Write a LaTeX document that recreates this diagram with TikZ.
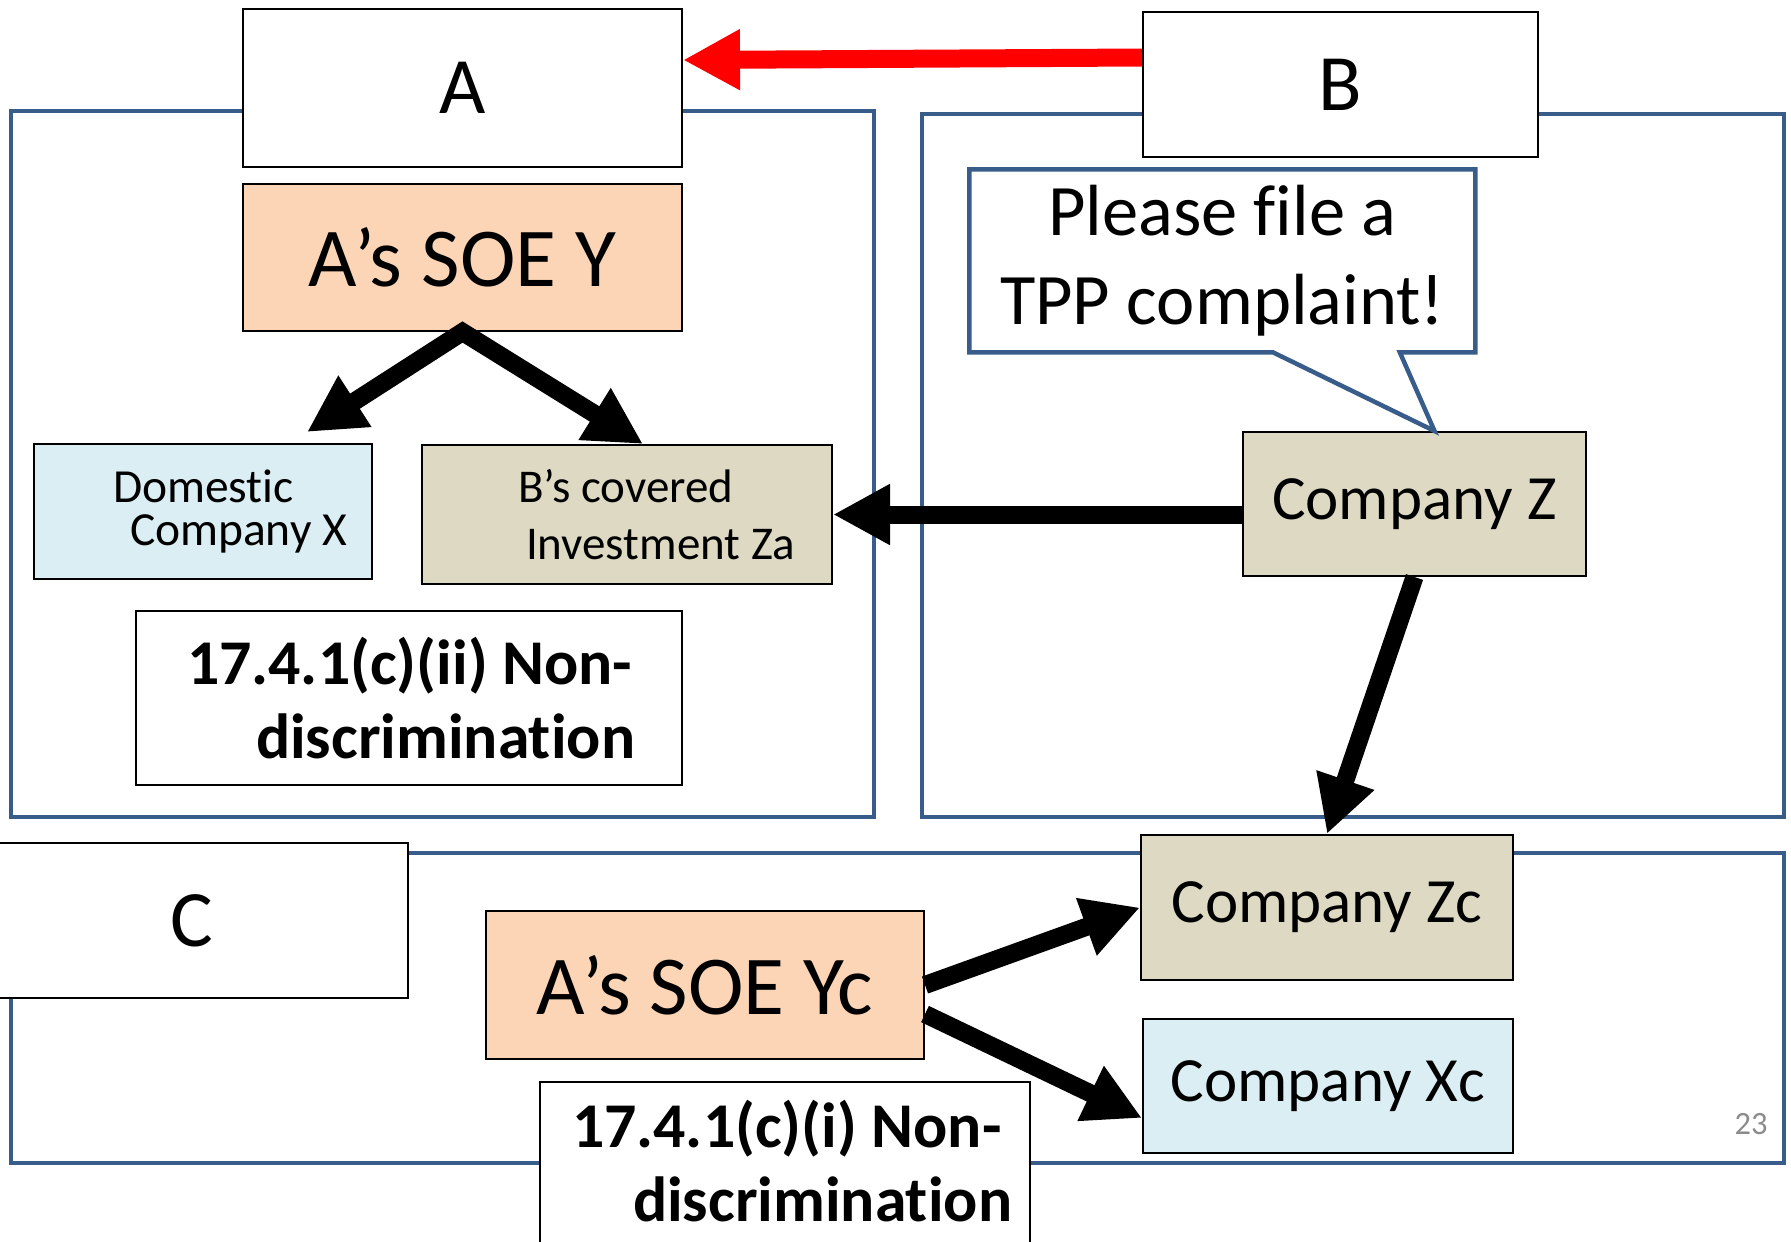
\documentclass[tikz,border=0pt]{standalone}
\usepackage{fontspec}
\setmainfont{Carlito}[Ligatures={TeX,NoCommon}]
\usetikzlibrary{arrows.meta,calc,shapes.callouts}

\definecolor{frameblue}{HTML}{385D8A}
\definecolor{soefill}{HTML}{FBD5B5}
\definecolor{domfill}{HTML}{DBEEF4}
\definecolor{invfill}{HTML}{DDD9C3}
\definecolor{pagegray}{HTML}{8C8C8C}

\tikzset{
  territory/.style={draw=frameblue, line width=1.8pt},
  country/.style={draw=black, line width=0.8pt, fill=white, anchor=north west, inner sep=0pt,
    font=\fontsize{32}{38}\selectfont},
  firm/.style={draw=black, line width=0.8pt, anchor=north west, inner sep=0pt},
  article/.style={draw=black, line width=0.8pt, fill=white, anchor=north west, inner sep=0pt,
    align=flush left, font=\fontsize{25.5}{29.6}\selectfont\bfseries},
  flow/.style={line width=7.2pt, >={Triangle[length=22.8pt,width=22.8pt]}, ->},
}

\begin{document}
\begin{tikzpicture}[x=0.4pt,y=0.4pt,yscale=-1,xscale=1]
\useasboundingbox (0,0) rectangle (1791,1241);

% the three parties
\draw [territory] (11,111) rectangle (874,817);
\draw [territory] (922,114) rectangle (1784,817);
\draw [territory] (11,853) rectangle (1784,1163);

\node [country, minimum width=175.6pt, minimum height=63.2pt] (a) at (242,8) {A};
\node [country, minimum width=158pt, minimum height=58pt] (b) at (1142,11) {B};
\node [country, minimum width=172.8pt, minimum height=62pt] (c) at (-25,842) {C};

% party A
\node [firm, fill=soefill, minimum width=175.6pt, minimum height=58.8pt,
  font=\fontsize{33.5}{40}\selectfont] (soey) at (242,183) {A’s SOE Y};
\node [firm, fill=domfill, text width=135.2pt, minimum height=54pt, align=flush left,
  font=\fontsize{19}{17.2}\selectfont] (domx) at (33,443)
  {\hspace*{31.6pt}Domestic\\\hspace*{38.4pt}Company X};
\node [firm, fill=invfill, text width=164pt, minimum height=55.6pt, align=flush left,
  font=\fontsize{18.8}{22.8}\selectfont] (za) at (421,444)
  {\hspace*{38.4pt}B’s covered\\\hspace*{41.6pt}Investment Za};
\node [article, text width=218.4pt, minimum height=69.6pt] (lawii) at (135,610)
  {\hspace*{20.4pt}17.4.1(c)(ii) Non-\\\hspace*{48pt}discrimination};

% party B
\node [firm, fill=invfill, minimum width=137.2pt, minimum height=57.6pt,
  font=\fontsize{25.2}{30}\selectfont] (z) at (1242,431) {Company Z};
\node [rectangle callout, draw=frameblue, line width=1.8pt, fill=white, anchor=north west,
  inner sep=0pt, minimum width=202.4pt, minimum height=73.2pt, align=center,
  callout absolute pointer={($(z.north)+(20,0)$)}, callout pointer width=50.8pt,
  font=\fontsize{29}{35.6}\selectfont] (plea) at (967,167) {Please file a\\TPP complaint!};

% party C (the article box runs off the bottom)
\node [firm, fill=soefill, minimum width=175.2pt, minimum height=59.2pt,
  font=\fontsize{33.5}{40}\selectfont] (yc) at (485,910) {A’s SOE Yc};
\node [firm, fill=invfill, minimum width=148.8pt, minimum height=58pt,
  font=\fontsize{25.2}{30}\selectfont] (zc) at (1140,834) {Company Zc};
\node [firm, fill=domfill, minimum width=148pt, minimum height=53.6pt,
  font=\fontsize{25.2}{30}\selectfont] (xc) at (1142,1018) {Company Xc};
\node [article, text width=196pt, text height=26pt, text depth=57.6pt] (lawi) at (539,1081)
  {\hspace*{12.8pt}17.4.1(c)(i) Non-\\\hspace*{37.2pt}discrimination};

\node [text=pagegray, font=\fontsize{13}{15}\selectfont] (page) at (1751,1124) {23};

% arrows
\draw [flow, red] ([yshift=-10.8pt]b.west) -- ([yshift=-11.2pt]a.east);
\draw [flow, <->] ($(domx.north)+(104,-11)$) -- (soey.south) -- ($(za.north)+(16,0)$);
\draw [flow] (z.west |- za.east) -- (za.east);
\draw [flow] (z.south) -- (zc.north);
\draw [flow] (yc.east) -- (zc.west);
\draw [flow] ($(yc.east)+(0,29)$) -- ($(xc.west)+(0,32)$);
\end{tikzpicture}
\end{document}
